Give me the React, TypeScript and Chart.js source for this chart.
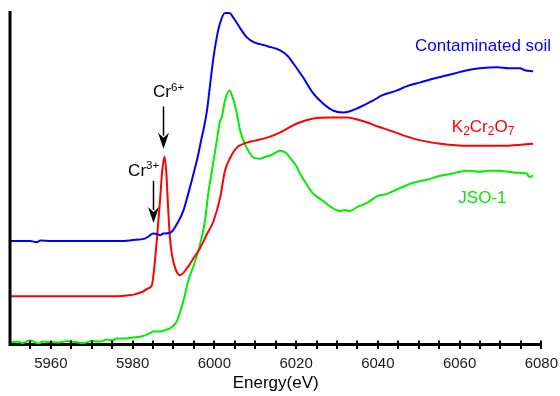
import React, { useEffect, useRef } from "react";
import { Chart, registerables } from "chart.js";

Chart.register(...registerables);

// ---- Data (energy in eV, normalized absorbance with vertical offsets) ----
const soilEnergy = [5950, 5955, 5956.5, 5957.5, 5960, 5970, 5977, 5980, 5983, 5984, 5985, 5986, 5986.7, 5987.5, 5989.2, 5990.8, 5992.4, 5993.6, 5994.9, 5996.1, 5996.9, 5997.3, 5998.2, 5999.0, 5999.8, 6000.6, 6001.4, 6002.6, 6003.7, 6004.7, 6006.3, 6007.9, 6009.6, 6011.2, 6013, 6016, 6018, 6019.3, 6021.7, 6024.2, 6026.6, 6029, 6031.5, 6033, 6034.9, 6038.9, 6041, 6044.7, 6047, 6050.4, 6053, 6057, 6061.9, 6065, 6069.2, 6072, 6074.8, 6076, 6078];
const soilValue = [1.03, 1.03, 1.02, 1.035, 1.03, 1.03, 1.03, 1.04, 1.055, 1.08, 1.105, 1.1, 1.09, 1.105, 1.113, 1.197, 1.33, 1.5, 1.7, 1.9, 2.06, 2.13, 2.33, 2.6, 2.86, 3.06, 3.2, 3.3, 3.3, 3.25, 3.15, 3.06, 3.01, 2.99, 2.97, 2.93, 2.87, 2.8, 2.66, 2.5, 2.4, 2.33, 2.31, 2.32, 2.35, 2.43, 2.48, 2.53, 2.57, 2.61, 2.64, 2.68, 2.73, 2.75, 2.76, 2.75, 2.75, 2.73, 2.72];

const dichromateEnergy = [5950, 5960, 5970, 5976, 5979, 5980.5, 5982.6, 5983.8, 5984.7, 5985.2, 5985.9, 5986.7, 5987.2, 5987.8, 5988.3, 5988.6, 5989.1, 5989.6, 5990.4, 5991.6, 5993.3, 5994.9, 5996.5, 5998.2, 5999.8, 6001.4, 6002.6, 6003.9, 6005.5, 6007.9, 6010, 6012.9, 6016, 6020.2, 6024.2, 6028.3, 6032.5, 6035, 6037.4, 6040, 6043, 6048.7, 6052, 6055.3, 6061.9, 6067, 6071.7, 6075, 6078];
const dichromateValue = [0.48, 0.48, 0.48, 0.48, 0.49, 0.5, 0.53, 0.56, 0.59, 0.73, 1.03, 1.43, 1.71, 1.87, 1.68, 1.43, 1.08, 0.9, 0.763, 0.69, 0.76, 0.86, 0.96, 1.1, 1.23, 1.46, 1.73, 1.86, 1.96, 2.01, 2.03, 2.06, 2.11, 2.2, 2.25, 2.26, 2.26, 2.24, 2.21, 2.17, 2.13, 2.05, 2.02, 2.0, 1.98, 1.98, 1.98, 1.99, 2.0];

const jsoEnergy = [5950, 5952, 5953, 5955, 5957, 5958, 5960, 5962, 5964, 5966, 5968, 5970, 5972, 5973.7, 5975, 5976, 5978, 5980, 5982, 5983.5, 5984.5, 5985, 5986.5, 5988.4, 5989.2, 5990.8, 5992.4, 5993.6, 5995.3, 5996.5, 5997.7, 5998.5, 5999.4, 6000.6, 6001.4, 6001.8, 6002.6, 6003.7, 6004.7, 6005.5, 6006.3, 6007.9, 6009.6, 6011.2, 6012.5, 6013.6, 6015, 6016, 6017.5, 6018.5, 6020, 6021, 6022.5, 6024.2, 6025.5, 6026.6, 6028.5, 6030.8, 6032, 6033.2, 6035, 6037.4, 6040, 6042.3, 6045, 6048.7, 6052, 6055.3, 6058, 6060, 6061.9, 6065, 6067, 6069.2, 6072, 6074, 6076.5, 6077, 6078];
const jsoValue = [0.02, 0.03, 0.015, 0.04, 0.01, 0.03, 0.025, 0.02, 0.035, 0.025, 0.015, 0.035, 0.03, 0.05, 0.04, 0.06, 0.06, 0.07, 0.08, 0.1, 0.12, 0.13, 0.13, 0.15, 0.163, 0.23, 0.43, 0.63, 0.83, 1.0, 1.23, 1.5, 1.73, 2.03, 2.23, 2.26, 2.43, 2.53, 2.43, 2.3, 2.13, 1.96, 1.86, 1.85, 1.87, 1.88, 1.91, 1.93, 1.91, 1.86, 1.78, 1.7, 1.6, 1.5, 1.46, 1.43, 1.37, 1.33, 1.34, 1.33, 1.37, 1.41, 1.48, 1.5, 1.55, 1.61, 1.64, 1.68, 1.7, 1.72, 1.73, 1.72, 1.73, 1.73, 1.72, 1.71, 1.7, 1.67, 1.68];

const xMin = 5950;
const xMax = 6080;
const minorStep = 5;
const labelStep = 20;
const yMin = 0;
const yMax = 3.32;

const FONT = '"Liberation Sans", Arial, Helvetica, sans-serif';

type Part = [string, "n" | "sub" | "sup"];

function drawRich(ctx: CanvasRenderingContext2D, x: number, y: number, parts: Part[], color: string) {
  ctx.save();
  ctx.fillStyle = color;
  ctx.textBaseline = "alphabetic";
  ctx.textAlign = "left";
  let cx = x;
  for (const [t, kind] of parts) {
    if (kind === "n") {
      ctx.font = `17px ${FONT}`;
      ctx.fillText(t, cx, y);
    } else if (kind === "sub") {
      ctx.font = `12px ${FONT}`;
      ctx.fillText(t, cx, y + 3.5);
    } else {
      ctx.font = `11.5px ${FONT}`;
      ctx.fillText(t, cx, y - 6.5);
    }
    cx += ctx.measureText(t).width;
  }
  ctx.restore();
}

function drawArrow(ctx: CanvasRenderingContext2D, x: number, y0: number, y1: number) {
  ctx.save();
  ctx.strokeStyle = "#000";
  ctx.fillStyle = "#000";
  ctx.lineWidth = 1.5;
  const headLen = 16;
  ctx.beginPath();
  ctx.moveTo(x, y0);
  ctx.lineTo(x, y1 - headLen + 3);
  ctx.stroke();
  ctx.beginPath();
  ctx.moveTo(x, y1);
  ctx.lineTo(x - 5.5, y1 - headLen);
  ctx.lineTo(x, y1 - headLen + 5);
  ctx.lineTo(x + 5.5, y1 - headLen);
  ctx.closePath();
  ctx.fill();
  ctx.restore();
}

const decorPlugin = {
  id: "decor",
  afterDraw(chart: any) {
    const { ctx, chartArea, scales } = chart;
    const xs = scales.x;
    const ys = scales.y;
    ctx.save();
    // y axis line
    ctx.strokeStyle = "#000";
    ctx.lineWidth = 3;
    ctx.beginPath();
    ctx.moveTo(chartArea.left, chartArea.top);
    ctx.lineTo(chartArea.left, chartArea.bottom + 1.5);
    ctx.stroke();
    // crossing tick marks every 5 eV
    ctx.lineWidth = 2;
    for (let v = xMin + minorStep; v <= xMax; v += minorStep) {
      const px = Math.round(xs.getPixelForValue(v));
      ctx.beginPath();
      ctx.moveTo(px, chartArea.bottom - 4);
      ctx.lineTo(px, chartArea.bottom + 4.5);
      ctx.stroke();
    }
    ctx.restore();

    const X = (e: number) => xs.getPixelForValue(e);
    const Y = (v: number) => ys.getPixelForValue(v);

    drawRich(ctx, X(6049.1), Y(2.92), [["Contaminated soil", "n"]], "#0000ff");
    drawRich(ctx, X(6058.1), Y(2.12), [["K", "n"], ["2", "sub"], ["Cr", "n"], ["2", "sub"], ["O", "n"], ["7", "sub"]], "#ff0000");
    drawRich(ctx, X(6059.7), Y(1.41), [["JSO-1", "n"]], "#00ee00");
    drawRich(ctx, X(5985.0), Y(2.46), [["Cr", "n"], ["6+", "sup"]], "#000");
    drawRich(ctx, X(5978.9), Y(1.68), [["Cr", "n"], ["3+", "sup"]], "#000");
    drawArrow(ctx, Math.round(X(5987.5)) + 0.5, Y(2.37), Y(1.95));
    drawArrow(ctx, Math.round(X(5985.1)) + 0.5, Y(1.63), Y(1.21));
  },
};

function toPoints(xs: number[], ys: number[]) {
  return xs.map((x, i) => ({ x, y: ys[i] }));
}

export default function App() {
  const ref = useRef<HTMLCanvasElement | null>(null);
  useEffect(() => {
    document.body.style.margin = "0";
    const canvas = ref.current;
    if (!canvas) return;
    const common = { pointRadius: 0, borderWidth: 2, cubicInterpolationMode: "monotone" as const, fill: false };
    const chart = new Chart(canvas, {
      type: "line",
      data: {
        datasets: [
          { label: "Contaminated soil", data: toPoints(soilEnergy, soilValue), borderColor: "#0000ff", ...common },
          { label: "K2Cr2O7", data: toPoints(dichromateEnergy, dichromateValue), borderColor: "#ff0000", ...common },
          { label: "JSO-1", data: toPoints(jsoEnergy, jsoValue), borderColor: "#00ee00", ...common },
        ],
      },
      options: {
        responsive: false,
        animation: false,
        events: [],
        layout: { padding: { left: 10, right: 9, top: 11, bottom: 0 } },
        plugins: { legend: { display: false }, tooltip: { enabled: false } },
        scales: {
          x: {
            type: "linear",
            min: xMin,
            max: xMax,
            grid: { display: false, drawTicks: true, tickLength: 8 },
            border: { display: true, color: "#000", width: 3 },
            ticks: {
              stepSize: minorStep,
              autoSkip: false,
              maxRotation: 0,
              padding: 2,
              color: "#1a1a1a",
              font: { family: FONT, size: 15 },
              callback: (v: any) => (Number(v) % labelStep === 0 && Number(v) !== xMin ? String(v) : ""),
            },
            title: {
              display: true,
              text: "Energy(eV)",
              color: "#000",
              font: { family: FONT, size: 17 },
              padding: { top: -1, bottom: 2 },
            },
          },
          y: { type: "linear", min: yMin, max: yMax, display: false },
        },
      },
      plugins: [decorPlugin],
    });
    return () => chart.destroy();
  }, []);
  return <canvas ref={ref} width={560} height={396} style={{ display: "block", width: 560, height: 396 }} />;
}
